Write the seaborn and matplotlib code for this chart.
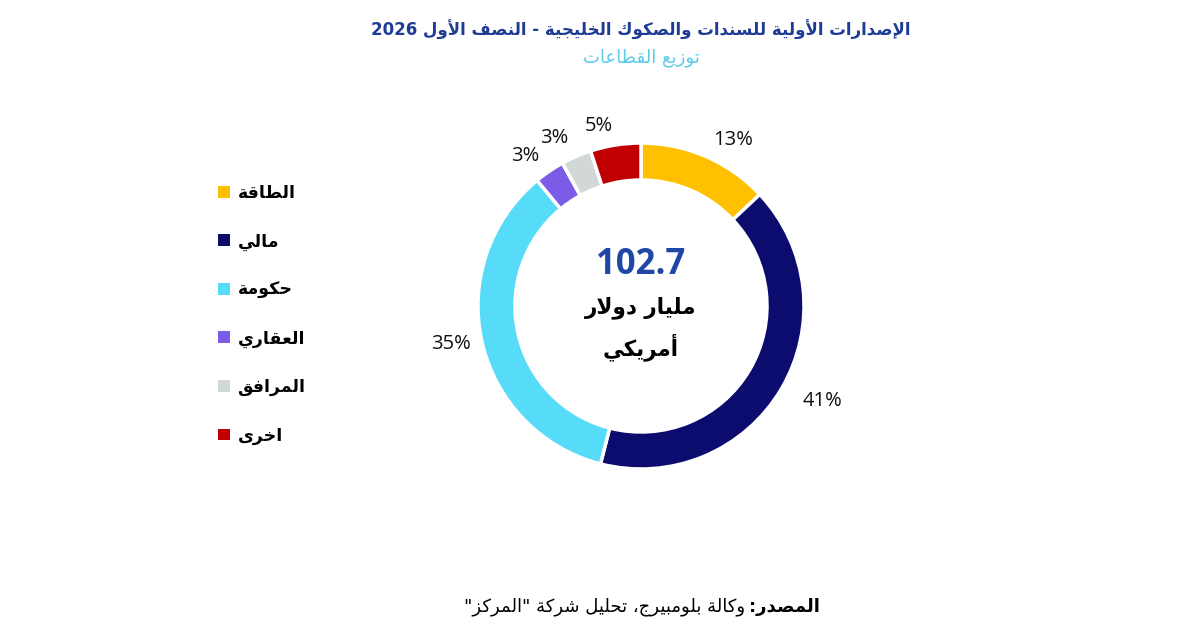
import numpy as np
import pandas as pd
import matplotlib
matplotlib.use("Agg")
import matplotlib.pyplot as plt
from matplotlib.patches import Patch
import seaborn as sns

# ---------------- data ----------------
sectors = ["الطاقة", "مالي", "حكومة", "العقاري", "المرافق", "اخرى"]
shares = [13, 41, 35, 3, 3, 5]
colors = ["#FFC000", "#0B0C6E", "#56DCF9", "#7A5CE6", "#D2D7D8", "#C00000"]
total_value = "102.7"
total_unit = ["مليار دولار", "أمريكي"]
title = "الإصدارات الأولية للسندات والصكوك الخليجية - النصف الأول 2026"
subtitle = "توزيع القطاعات"
source_bold = "المصدر:"
source_rest = 'وكالة بلومبيرج، تحليل شركة "المركز"'

# ---------------- Arabic shaping helper ----------------
_AR = [('\u0621', 0xFE80, 1), ('\u0622', 0xFE81, 2), ('\u0623', 0xFE83, 2), ('\u0624', 0xFE85, 2),
       ('\u0625', 0xFE87, 2), ('\u0626', 0xFE89, 4), ('\u0627', 0xFE8D, 2), ('\u0628', 0xFE8F, 4),
       ('\u0629', 0xFE93, 2), ('\u062A', 0xFE95, 4), ('\u062B', 0xFE99, 4), ('\u062C', 0xFE9D, 4),
       ('\u062D', 0xFEA1, 4), ('\u062E', 0xFEA5, 4), ('\u062F', 0xFEA9, 2), ('\u0630', 0xFEAB, 2),
       ('\u0631', 0xFEAD, 2), ('\u0632', 0xFEAF, 2), ('\u0633', 0xFEB1, 4), ('\u0634', 0xFEB5, 4),
       ('\u0635', 0xFEB9, 4), ('\u0636', 0xFEBD, 4), ('\u0637', 0xFEC1, 4), ('\u0638', 0xFEC5, 4),
       ('\u0639', 0xFEC9, 4), ('\u063A', 0xFECD, 4), ('\u0641', 0xFED1, 4), ('\u0642', 0xFED5, 4),
       ('\u0643', 0xFED9, 4), ('\u0644', 0xFEDD, 4), ('\u0645', 0xFEE1, 4), ('\u0646', 0xFEE5, 4),
       ('\u0647', 0xFEE9, 4), ('\u0648', 0xFEED, 2), ('\u0649', 0xFEEF, 2), ('\u064A', 0xFEF1, 4)]
_FORMS = {c: (b, n) for c, b, n in _AR}
_LAMALEF = {'\u0622': 0xFEF5, '\u0623': 0xFEF7, '\u0625': 0xFEF9, '\u0627': 0xFEFB}


def shape_ar(s):
    toks = []
    i = 0
    while i < len(s):
        c = s[i]
        if c == '\u0644' and i + 1 < len(s) and s[i + 1] in _LAMALEF:
            toks.append(('LA', _LAMALEF[s[i + 1]], 2))
            i += 2
            continue
        if c in _FORMS:
            b, n = _FORMS[c]
            toks.append((c, b, n))
        else:
            toks.append((c, None, 0))
        i += 1
    out = []
    for k, (c, b, n) in enumerate(toks):
        if b is None:
            out.append(c)
            continue
        prev_j = k > 0 and toks[k - 1][2] == 4
        next_j = n == 4 and k + 1 < len(toks) and toks[k + 1][2] >= 2
        if n == 1:
            out.append(chr(b))
        elif n == 2:
            out.append(chr(b + 1) if prev_j else chr(b))
        else:
            if prev_j and next_j:
                out.append(chr(b + 3))
            elif prev_j:
                out.append(chr(b + 1))
            elif next_j:
                out.append(chr(b + 2))
            else:
                out.append(chr(b))
    shaped = ''.join(out)
    rev = shaped[::-1]
    res, run = [], []
    for ch in rev:
        if ch.isascii() and (ch.isalnum() or ch in '.%'):
            run.append(ch)
        else:
            if run:
                res.extend(run[::-1])
                run = []
            res.append(ch)
    if run:
        res.extend(run[::-1])
    return ''.join(res)


# ---------------- figure ----------------
sns.set_theme(style="white")
plt.rcParams['font.family'] = ['DejaVu Sans']
plt.rcParams['text.color'] = 'black'

W, H = 1200, 634
fig = plt.figure(figsize=(W / 100, H / 100), dpi=100)
fig.patch.set_facecolor("white")
ax = fig.add_axes([0, 0, 1, 1])

df = pd.DataFrame({"sector": sectors, "share": shares, "color": colors})

cx, cy, R = 641, H - 306, 163
wedges, _ = ax.pie(df["share"], colors=df["color"], startangle=90, counterclock=False,
                   center=(cx, cy), radius=R,
                   wedgeprops=dict(width=37, edgecolor="white", linewidth=2.5))
ax.set_xlim(0, W)
ax.set_ylim(0, H)
ax.set_aspect("equal")
ax.axis("off")

# percentage labels
label_dist = [1.11, 1.15, 1.07, 1.11, 1.12, 1.12]
for w, v, d in zip(wedges, df["share"], label_dist):
    ang = np.deg2rad((w.theta1 + w.theta2) / 2)
    x = cx + d * R * np.cos(ang)
    y = cy + d * R * np.sin(ang)
    ax.text(x, y, f"{v}%", ha="left" if x > cx else "right", va="center",
            fontsize=14.5, color="#111111", family=["Open Sans", "DejaVu Sans"])

# center text
ax.text(cx, H - 265, total_value, ha="center", va="center", fontsize=25, fontweight="bold",
        color="#1F47A5", family=["Open Sans", "DejaVu Sans"])
ax.text(cx, H - 308, shape_ar(total_unit[0]), ha="center", va="center", fontsize=15.5,
        fontweight="bold", color="black")
ax.text(cx, H - 347, shape_ar(total_unit[1]), ha="center", va="center", fontsize=15.5,
        fontweight="bold", color="black")

# titles
ax.text(cx, H - 30, shape_ar(title), ha="center", va="center", fontsize=12, fontweight="bold",
        color="#1E3C96")
ax.text(cx, H - 58, shape_ar(subtitle), ha="center", va="center", fontsize=13,
        color="#5CCBEA")

# legend
handles = [Patch(facecolor=c, edgecolor="none") for c in df["color"]]
leg = ax.legend(handles, [shape_ar(s) for s in df["sector"]], loc="upper left",
                bbox_to_anchor=(218, H - 184), bbox_transform=ax.transData,
                frameon=False, borderpad=0, borderaxespad=0,
                handlelength=0.68, handleheight=0.68, handletextpad=0.45,
                labelspacing=1.75, prop=dict(size=12.5, weight="bold"))
for txt in leg.get_texts():
    txt.set_color("black")

# source
t = ax.text(820, H - 607, shape_ar(source_bold), ha="right", va="center", fontsize=13,
            fontweight="bold", color="black")
fig.canvas.draw()
bb = t.get_window_extent()
ax.text(bb.x0 - 4, H - 607, shape_ar(source_rest), ha="right", va="center", fontsize=13,
        color="black")

fig.savefig("out.png", dpi=100, facecolor="white")
